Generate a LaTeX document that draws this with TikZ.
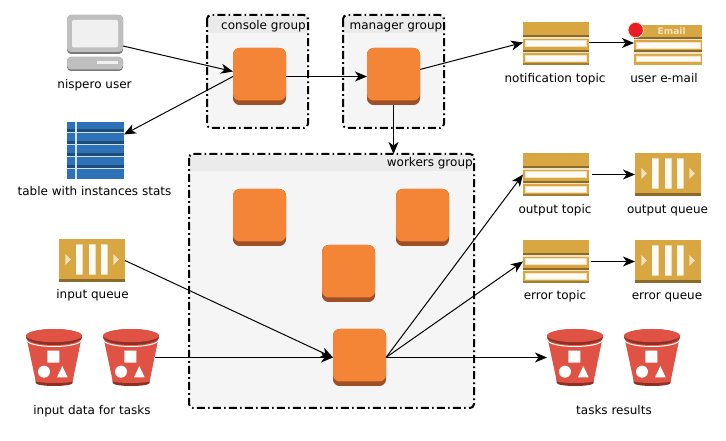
\documentclass[tikz,border=0pt]{standalone}
\usepackage{fontspec}
\setmainfont{DejaVu Sans}
\usetikzlibrary{arrows.meta}
\definecolor{gold}{HTML}{D9A741}
\definecolor{golddark}{HTML}{8B6B2D}
\definecolor{goldpale}{HTML}{F2E2BD}
\definecolor{orangeb}{HTML}{F58536}
\definecolor{oranged}{HTML}{9D5025}
\definecolor{redb}{HTML}{E05243}
\definecolor{redd}{HTML}{8C3123}
\definecolor{blueb}{HTML}{2D72B8}
\definecolor{blued}{HTML}{1E4E78}
\definecolor{bluel}{HTML}{D2E2F0}
\definecolor{ballred}{HTML}{ED1C24}
\tikzset{
  box/.style n args={2}{draw=none,inner sep=0pt,outer sep=0pt,minimum width=0.75pt*#1,minimum height=0.75pt*#2,rectangle},
  grp/.style n args={2}{box={#1}{#2},fill=groupfill,rounded corners=3pt},
  grpborder/.style={draw=black,line width=1.5pt,rounded corners=3pt,dash pattern=on 6pt off 2.4pt on 1.2pt off 2.4pt},
  lab/.style={inner sep=0pt,anchor=base,yshift=-0.75pt,font=\fontsize{9pt}{10pt}\selectfont,text=black},
  grplab/.style={inner sep=0pt,anchor=base east,yshift=-0.5pt,font=\fontsize{9pt}{10pt}\selectfont,text=black},
  conn/.style={draw=black,line width=0.75pt,-{Stealth[length=9pt,width=7.5pt,inset=2.6pt]}},
  orangeicon/.pic={
    \fill[oranged] (0,0) [rounded corners=5pt] rectangle (53,57);
    \fill[orangeb] (0,0) [rounded corners=5pt] rectangle (53,52.5);
  },
  queueicon/.pic={
    \fill[gold] (0,0) rectangle (66,43);
    \fill[golddark] (0,40.3) rectangle (66,43);
    \fill[white!96!gold] (17,5.3) rectangle (23.7,35.7) (30,5.3) rectangle (36.7,35.7) (42,5.3) rectangle (48.7,35.7);
    \fill[goldpale] (6.3,15) -- (12,20.5) -- (6.3,26) -- cycle (54.3,15) -- (60,20.5) -- (54.3,26) -- cycle;
  },
  topicicon/.pic={
    \fill[gold] (0,0) rectangle (66,43);
    \fill[golddark] (0,13) rectangle (66,15);
    \fill[goldpale] (0,15) rectangle (66,17);
    \fill[golddark] (0,28) rectangle (66,30.3);
    \fill[goldpale] (0,30.3) rectangle (66,31.5);
    \fill[golddark!70!gold] (0,41.5) rectangle (66,43);
    \fill[white!96!gold,draw=goldpale,line width=.6pt] (2.5,18.7) rectangle (63.5,24.7) (2.5,33.5) rectangle (63.5,39.7);
  },
  bucketicon/.pic={
    \fill[redd] (9.7,50) -- (46.7,50) -- (46.7,54) arc[start angle=0,end angle=180,x radius=18.5,y radius=3] -- cycle;
    \fill[redb] (0.3,8) -- (55.7,8) -- (46.7,52) arc[start angle=0,end angle=180,x radius=18.5,y radius=2] -- cycle;
    \draw[white,line width=.75pt] (0.6,11) arc[start angle=180,end angle=0,x radius=27.4,y radius=6.5];
    \fill[redd] (28,8) circle[x radius=28,y radius=8];
    \fill[redb] (28,6.6) circle[x radius=28,y radius=6.6];
    \fill[white] (21.3,21.7) rectangle (33.3,33.7) (18,42.7) circle[radius=6] (36.3,37) -- (41.7,48.3) -- (31,48.3) -- cycle;
  },
  computericon/.pic={
    \fill[black!52] (0,0) [rounded corners=3pt] rectangle (56,39);
    \fill[black!25] (0,0) [rounded corners=3pt] rectangle (56,37);
    \fill[black!6] (5,5) [rounded corners=1pt] rectangle (51,32.5);
    \fill[black!52] (0,42) [rounded corners=3pt] rectangle (56,56);
    \fill[black!25] (0,42) [rounded corners=3pt] rectangle (56,54.5);
    \fill[black!6] (30,46) rectangle (51,49);
  },
  tableicon/.pic={
    \fill[blueb] (0,0) rectangle (57,57);
    \foreach \r in {0,1,2,3}{
      \fill[blued] (0,7+12*\r) rectangle (57,10+12*\r);
      \fill[bluel] (0,10+12*\r) rectangle (57,11.5+12*\r);
    }
    \fill[bluel] (8,0) rectangle (10,57);
  },
}
\colorlet{groupfill}{black!4}
\colorlet{headerfill}{black!8}
\begin{document}
\begin{tikzpicture}[x=0.75pt,y=-0.75pt]
\useasboundingbox (0,0) rectangle (726,441);
% groups
\node[grp={101}{113}] (cg) at (257.5,71.5) {};
\fill[headerfill] (208,16) rectangle (307,33);
\draw[grpborder] (cg.north west) rectangle (cg.south east);
\node[grplab] (cgl) at (306,29) {console group};
\node[grp={101}{113}] (mg) at (393.5,71.5) {};
\fill[headerfill] (344,16) rectangle (443,33);
\draw[grpborder] (mg.north west) rectangle (mg.south east);
\node[grplab] (mgl) at (442.5,29) {manager group};
\node[grp={285}{254}] (wg) at (331.5,281) {};
\fill[headerfill] (190,155) rectangle (473,171);
\draw[grpborder] (wg.north west) rectangle (wg.south east);
\node[grplab] (wgl) at (473,166) {workers group};
% orange instances
\node[box={53}{57}] (cons) at (259.5,76.5) {};
\pic at (cons.north west) {orangeicon};
\node[box={53}{57}] (mgr) at (393.5,76.5) {};
\pic at (mgr.north west) {orangeicon};
\node[box={53}{57}] (w1) at (259.5,217.5) {};
\pic at (w1.north west) {orangeicon};
\node[box={53}{57}] (w2) at (422.5,217.5) {};
\pic at (w2.north west) {orangeicon};
\node[box={53}{57}] (w3) at (348.5,273.5) {};
\pic at (w3.north west) {orangeicon};
\node[box={53}{57}] (w4) at (359.5,357.5) {};
\pic at (w4.north west) {orangeicon};
% left column
\node[box={56}{56}] (user) at (95,43) {};
\pic at (user.north west) {computericon};
\node[lab] (userl) at (94.5,88) {nispero user};
\node[box={57}{57}] (tbl) at (95.5,150.5) {};
\pic at (tbl.north west) {tableicon};
\node[lab] (tbll) at (94.5,195) {table with instances stats};
\node[box={66}{43}] (inq) at (92,260.5) {};
\pic at (inq.north west) {queueicon};
\node[lab] (inql) at (92.5,298) {input queue};
\node[box={56}{57}] (b1) at (54,357.5) {};
\pic at (b1.north west) {bucketicon};
\node[box={56}{57}] (b2) at (131,357.5) {};
\pic at (b2.north west) {bucketicon};
\node[lab] (bl) at (92,414) {input data for tasks};
% right columns
\node[box={66}{43}] (nt) at (556,43.5) {};
\pic at (nt.north west) {topicicon};
\node[lab] (ntl) at (555,82) {notification topic};
\node[box={68}{43}] (em) at (668,43.5) {};
\fill[gold] (634,25) rectangle (702,36.7);
\fill[golddark] (634,36.7) rectangle (702,39);
\fill[goldpale] (634,39) rectangle (702,40.5);
\fill[gold] (634,40.5) rectangle (702,50);
\fill[golddark] (634,50) rectangle (702,52.3);
\fill[goldpale] (634,52.3) rectangle (702,54);
\fill[gold] (634,54) rectangle (702,65);
\fill[white!96!gold,draw=goldpale,line width=.6pt] (636,42.3) rectangle (700,48.3) (636,56) rectangle (700,61.7);
\node[inner sep=0pt,text=goldpale,font=\bfseries\fontsize{6.8pt}{7pt}\selectfont] (eml) at (671.7,31) {Email};
\fill[ballred,draw=goldpale,line width=.6pt] (635.7,30) circle[radius=7.7];
\node[lab] (emll) at (664,82) {user e-mail};
\node[box={66}{43}] (ot) at (556,174.5) {};
\pic at (ot.north west) {topicicon};
\node[lab] (otl) at (555,212.5) {output topic};
\node[box={66}{43}] (oq) at (668,174.5) {};
\pic at (oq.north west) {queueicon};
\node[lab] (oql) at (667.5,212.5) {output queue};
\node[box={66}{43}] (et) at (556,261.5) {};
\pic at (et.north west) {topicicon};
\node[lab] (etl) at (555,299) {error topic};
\node[box={66}{43}] (eq) at (668,261.5) {};
\pic at (eq.north west) {queueicon};
\node[lab] (eql) at (667,299) {error queue};
\node[box={56}{57}] (r1) at (575,357.5) {};
\pic at (r1.north west) {bucketicon};
\node[box={56}{57}] (r2) at (652,357.5) {};
\pic at (r2.north west) {bucketicon};
\node[lab] (rl) at (614,414) {tasks results};
% connectors
\draw[conn] ([shift={(0,3)}]user.east) -- ([shift={(0,-5)}]cons.west);
\draw[conn] (cons.west) -- ([shift={(0,-16)}]tbl.east);
\draw[conn] (cons.east) -- (mgr.west);
\draw[conn] ([shift={(0,-7)}]mgr.east) -- ([shift={(0,-1)}]nt.west);
\draw[conn] (mgr.south) -- (mgr.south |- wg.north);
\draw[conn] ([shift={(0,-0.5)}]nt.east) -- ([shift={(0,-0.5)}]em.west);
\draw[conn] (inq.east) -- (w4.west);
\draw[conn] ([shift={(-4,0)}]b2.east) -- (w4.west);
\draw[conn] (w4.east) -- (ot.west);
\draw[conn] (w4.east) -- (et.west);
\draw[conn] (w4.east) -- (r1.west);
\draw[conn] ([shift={(3,0)}]ot.east) -- (oq.west);
\draw[conn] ([shift={(2,0)}]et.east) -- (eq.west);
\end{tikzpicture}
\end{document}
